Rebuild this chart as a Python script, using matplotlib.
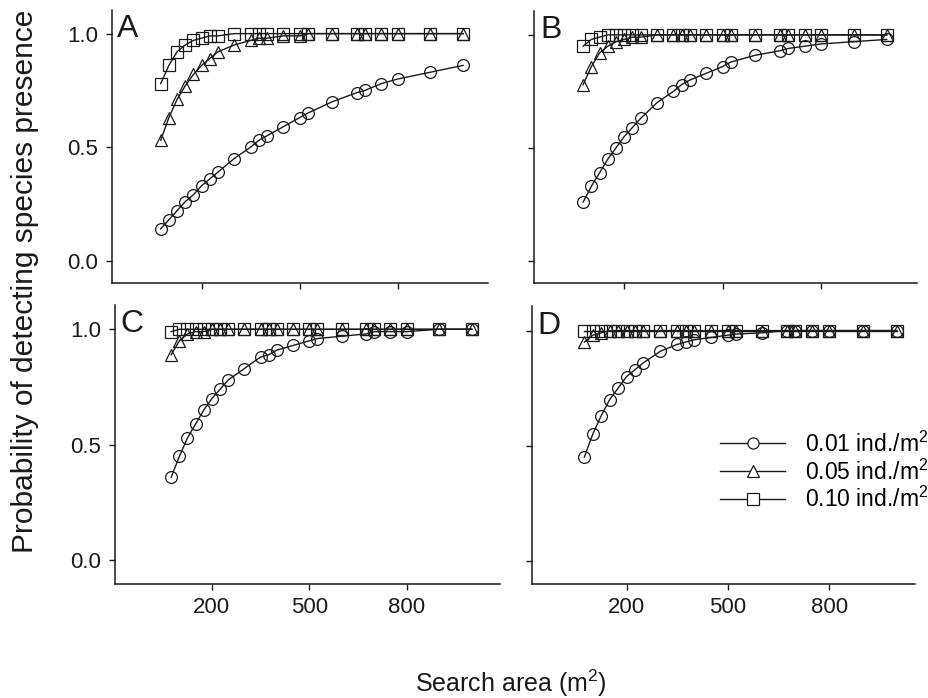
import matplotlib.pyplot as plt
import numpy as np
from matplotlib.lines import Line2D

plt.rcParams['font.family'] = ['Liberation Sans', 'DejaVu Sans']
plt.rcParams['mathtext.default'] = 'regular'

# search area (m2), same for every series
area = [75, 100, 125, 150, 175, 200, 225, 250, 300, 350, 375, 400,
        450, 500, 525, 600, 675, 700, 750, 800, 900, 1000]

# panel A
a_001 = [0.14, 0.18, 0.22, 0.26, 0.29, 0.33, 0.36, 0.39, 0.45, 0.50, 0.53, 0.55,
         0.59, 0.63, 0.65, 0.70, 0.74, 0.75, 0.78, 0.80, 0.83, 0.86]
a_005 = [0.53, 0.63, 0.71, 0.77, 0.82, 0.86, 0.89, 0.92, 0.95, 0.97, 0.98, 0.98,
         0.99, 0.99, 1.0, 1.0, 1.0, 1.0, 1.0, 1.0, 1.0, 1.0]
a_010 = [0.78, 0.86, 0.92, 0.95, 0.97, 0.98, 0.99, 0.99, 1.0, 1.0, 1.0, 1.0,
         1.0, 1.0, 1.0, 1.0, 1.0, 1.0, 1.0, 1.0, 1.0, 1.0]
# panel B
b_001 = [0.26, 0.33, 0.39, 0.45, 0.50, 0.55, 0.59, 0.63, 0.70, 0.75, 0.78, 0.80,
         0.83, 0.86, 0.88, 0.91, 0.93, 0.94, 0.95, 0.96, 0.97, 0.98]
b_005 = [0.78, 0.86, 0.92, 0.95, 0.97, 0.98, 0.99, 0.99, 1.0, 1.0, 1.0, 1.0,
         1.0, 1.0, 1.0, 1.0, 1.0, 1.0, 1.0, 1.0, 1.0, 1.0]
b_010 = [0.95, 0.98, 0.99, 1.0, 1.0, 1.0, 1.0, 1.0, 1.0, 1.0, 1.0, 1.0,
         1.0, 1.0, 1.0, 1.0, 1.0, 1.0, 1.0, 1.0, 1.0, 1.0]
# panel C
c_001 = [0.36, 0.45, 0.53, 0.59, 0.65, 0.70, 0.74, 0.78, 0.83, 0.88, 0.89, 0.91,
         0.93, 0.95, 0.96, 0.97, 0.98, 0.99, 0.99, 0.99, 1.0, 1.0]
c_005 = [0.89, 0.95, 0.98, 0.99, 0.99, 1.0, 1.0, 1.0, 1.0, 1.0, 1.0, 1.0,
         1.0, 1.0, 1.0, 1.0, 1.0, 1.0, 1.0, 1.0, 1.0, 1.0]
c_010 = [0.99, 1.0, 1.0, 1.0, 1.0, 1.0, 1.0, 1.0, 1.0, 1.0, 1.0, 1.0,
         1.0, 1.0, 1.0, 1.0, 1.0, 1.0, 1.0, 1.0, 1.0, 1.0]
# panel D
d_001 = [0.45, 0.55, 0.63, 0.70, 0.75, 0.80, 0.83, 0.86, 0.91, 0.94, 0.95, 0.96,
         0.97, 0.98, 0.985, 0.99, 1.0, 1.0, 1.0, 1.0, 1.0, 1.0]
d_005 = [0.95, 0.98, 0.99, 1.0, 1.0, 1.0, 1.0, 1.0, 1.0, 1.0, 1.0, 1.0,
         1.0, 1.0, 1.0, 1.0, 1.0, 1.0, 1.0, 1.0, 1.0, 1.0]
d_010 = [1.0] * 22

panels = {'A': (a_001, a_005, a_010), 'B': (b_001, b_005, b_010),
          'C': (c_001, c_005, c_010), 'D': (d_001, d_005, d_010)}
labels = ['0.01 ind./m$^2$', '0.05 ind./m$^2$', '0.10 ind./m$^2$']
markers = ['o', '^', 's']

col = '#1a1a1a'
fig = plt.figure(figsize=(9.29, 6.98), dpi=100)

# axes boxes [left, bottom, width, height] and x limits per panel
boxes = {'A': [0.1202, 0.594, 0.405, 0.392],
         'B': [0.5751, 0.594, 0.4116, 0.390],
         'C': [0.1238, 0.164, 0.414, 0.399],
         'D': [0.5723, 0.164, 0.4126, 0.397]}
xlims = {'A': (-75, 1076), 'B': (-74, 1091), 'C': (-98, 1086), 'D': (-81, 1054)}

for name, series in panels.items():
    ax = fig.add_axes(boxes[name])
    for ys, m in zip(series, markers):
        ax.plot(area, ys, color=col, lw=1.0, marker=m, ms=8.5,
                mfc='none', mec=col, mew=0.9)
    ax.set_xlim(*xlims[name])
    ax.set_ylim(-0.1, 1.105)
    ax.set_xticks([200, 500, 800])
    ax.set_yticks([0.0, 0.5, 1.0])
    ax.set_yticklabels(['0.0', '0.5', '1.0'])
    for s in ['top', 'right']:
        ax.spines[s].set_visible(False)
    for s in ['left', 'bottom']:
        ax.spines[s].set_linewidth(1.1)
        ax.spines[s].set_color(col)
    ax.tick_params(direction='out', length=4, width=1.0, colors=col,
                   labelsize=16, pad=6)
    if name in ('A', 'B'):
        ax.tick_params(labelbottom=False)
    if name in ('B', 'D'):
        ax.tick_params(labelleft=False)
    ax.text(0.015, 0.985, name, transform=ax.transAxes, fontsize=23,
            va='top', ha='left', color=col)

handles = [Line2D([], [], color=col, lw=1.0, marker=m, ms=8, mfc='white',
                  mec=col, mew=0.9) for m in markers]
fig.legend(handles, labels, loc='center left', bbox_to_anchor=(0.775, 0.324),
           frameon=False, fontsize=16.5, handlelength=2.85, handletextpad=0.85,
           labelspacing=0.12, borderpad=0, borderaxespad=0)

fig.text(0.027, 0.597, 'Probability of detecting species presence', rotation=90,
         fontsize=21.5, va='center', ha='center', color=col)
fig.text(0.55, 0.0215, 'Search area (m$^2$)', fontsize=18, va='center',
         ha='center', color=col)

fig.savefig('out.png', dpi=100)
